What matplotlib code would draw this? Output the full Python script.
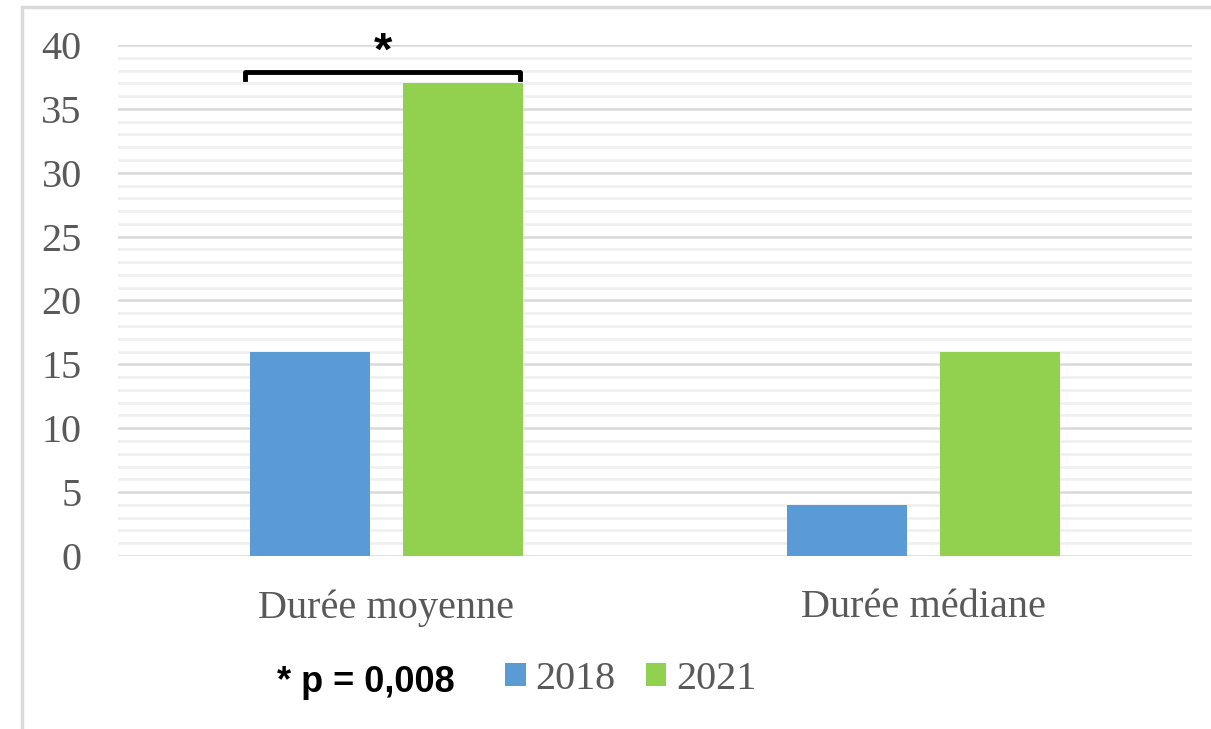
import numpy as np
import matplotlib
matplotlib.use('Agg')
import matplotlib.pyplot as plt
from matplotlib.patches import Rectangle
from matplotlib.ticker import MultipleLocator

categories = ['Durée moyenne', 'Durée médiane']
years = ['2018', '2021']
values_2018 = [16, 4]
values_2021 = [37, 16]
colors = ['#5b9bd5', '#92d050']
p_label = '* p = 0,008'

fig = plt.figure(figsize=(12.11, 7.29), dpi=100)
ax = fig.add_axes([0.0974, 0.2373, 0.8869, 0.7010])

x = np.arange(len(categories))
w = 0.224
off = 0.142
ax.bar(x - off, values_2018, w, color=colors[0], label=years[0], zorder=3)
ax.bar(x + off, values_2021, w, color=colors[1], label=years[1], zorder=3)

ax.set_xlim(-0.5, 1.5)
ax.set_ylim(0, 40)
ax.yaxis.set_major_locator(MultipleLocator(5))
ax.yaxis.set_minor_locator(MultipleLocator(1))
ax.grid(axis='y', which='major', color='#d9d9d9', lw=1.8, zorder=0)
ax.grid(axis='y', which='minor', color='#efefef', lw=1.8, zorder=0)
for s in ax.spines.values():
    s.set_visible(False)
ax.tick_params(axis='both', which='both', length=0)
ax.tick_params(axis='y', pad=26)
ax.tick_params(axis='x', pad=24)
ax.set_xticks(x)
ax.set_xticklabels(categories)
for lab in ax.get_xticklabels() + ax.get_yticklabels():
    lab.set_family('Liberation Serif')
    lab.set_color('#595959')
    lab.set_fontsize(29)

# significance bracket over the first group
x0 = x[0] - off - w / 2 - 0.01
x1 = x[0] + off + w / 2 - 0.005
ax.plot([x0, x0, x1, x1], [37.3, 37.9, 37.9, 37.3], color='black', lw=3.5,
        solid_joinstyle='round', clip_on=False, zorder=4)
ax.text(x[0] - 0.007, 39.4, '*', ha='center', va='center', fontsize=34,
        fontweight='bold', family='Liberation Sans', zorder=4)

# outer frame
fig.patches.append(Rectangle((22 / 1211, -0.1), 1.2, 1 - 7 / 729 + 0.1,
                             transform=fig.transFigure, fill=False,
                             edgecolor='#d9d9d9', lw=2.5))

leg = fig.legend(loc='center', bbox_to_anchor=(0.521, 0.068), ncol=2, frameon=False,
                 prop={'family': 'Liberation Serif', 'size': 29},
                 handlelength=0.5, handleheight=0.5, handletextpad=0.25,
                 columnspacing=0.75)
for t in leg.get_texts():
    t.set_color('#595959')

fig.text(366 / 1211, 1 - 683 / 729, p_label, ha='center', va='center',
         fontsize=26, fontweight='bold', family='Liberation Sans')

fig.savefig('out.png', dpi=100)
